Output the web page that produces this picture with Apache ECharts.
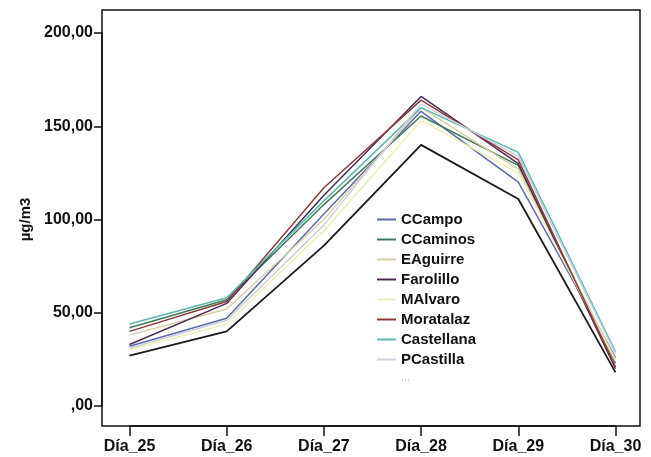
<!DOCTYPE html>
<html>
<head>
<meta charset="utf-8">
<script src="https://cdn.jsdelivr.net/npm/echarts@6/dist/echarts.min.js"></script>
<style>html,body{margin:0;padding:0;background:#fff}#c{width:651px;height:457px}</style>
</head>
<body>
<div id="c"></div>
<script>
const categories = ['Día_25', 'Día_26', 'Día_27', 'Día_28', 'Día_29', 'Día_30'];
const yTicks = [0, 50, 100, 150, 200];
const CCampo     = [32, 47, 103, 158, 120, 26];
const CCaminos   = [42, 57, 108, 155.5, 129, 23];
const EAguirre   = [38, 52, 100, 160, 127, 25];
const Farolillo  = [33, 55, 113, 166, 130, 20];
const MAlvaro    = [30, 44, 94, 153, 125, 24];
const Moratalaz  = [40, 56, 117, 164, 132, 21];
const Castellana = [44, 58, 110, 160, 136, 29];
const PCastilla  = [31, 46, 97, 162, 134, 28];
const Otros      = [27, 40, 86, 140, 111, 18];

const seriesDefs = [
  ['CCampo', CCampo, '#5b6aa8'],
  ['CCaminos', CCaminos, '#3f7a5c'],
  ['EAguirre', EAguirre, '#d8cfa8'],
  ['Farolillo', Farolillo, '#4e2a50'],
  ['MAlvaro', MAlvaro, '#eceeb8'],
  ['Moratalaz', Moratalaz, '#8a3d3d'],
  ['Castellana', Castellana, '#5ab8b0'],
  ['PCastilla', PCastilla, '#cfcfdc'],
  ['...', Otros, '#1a1a1a']
];

const FONT = "'Liberation Sans', Arial, sans-serif";
const chart = echarts.init(document.getElementById('c'), null, {renderer: 'canvas'});
chart.setOption({
  animation: false,
  backgroundColor: '#fff',
  textStyle: {fontFamily: FONT},
  grid: {left: 129.5, right: 35.5, top: 33, bottom: 51, containLabel: false},
  graphic: [{
    type: 'rect', z: 0, silent: true,
    shape: {x: 102, y: 10, width: 538, height: 416},
    style: {fill: 'none', stroke: '#111', lineWidth: 1.5}
  }],
  legend: {
    orient: 'vertical', left: 377, top: 212,
    icon: 'rect', itemWidth: 19, itemHeight: 2, itemGap: 5, padding: 0,
    textStyle: {fontFamily: FONT, fontSize: 15, fontWeight: 'bold', color: '#111'},
    data: seriesDefs.slice(0, 8).map(d => d[0]).concat([{name: '...', icon: 'none', textStyle: {color: '#bbb', fontWeight: 'normal', fontSize: 11}}])
  },
  xAxis: {
    type: 'category', data: categories, boundaryGap: false, offset: 20,
    axisLine: {show: true, onZero: false, lineStyle: {color: '#111', width: 1.5}},
    axisTick: {show: true, length: 10, lineStyle: {color: '#111', width: 1.5}},
    axisLabel: {margin: 13, fontFamily: FONT, fontSize: 16, fontWeight: 'bold', color: '#111'},
    splitLine: {show: false}
  },
  yAxis: {
    type: 'value', min: yTicks[0], max: yTicks[yTicks.length - 1], interval: 50, offset: 27.5,
    name: 'µg/m3', nameLocation: 'middle', nameGap: 63, nameRotate: 90,
    nameTextStyle: {fontFamily: FONT, fontSize: 15, fontWeight: 'bold', color: '#111'},
    axisLine: {show: true, lineStyle: {color: '#111', width: 1.5}},
    axisTick: {show: true, length: 8, lineStyle: {color: '#111', width: 1.5}},
    axisLabel: {
      margin: 9, fontFamily: FONT, fontSize: 16, fontWeight: 'bold', color: '#111',
      formatter: v => v === 0 ? ',00' : v.toFixed(2).replace('.', ',')
    },
    splitLine: {show: false}
  },
  series: seriesDefs.map(d => ({
    name: d[0], type: 'line', data: d[1], symbol: 'none',
    lineStyle: {color: d[2], width: d[0] === '...' ? 1.8 : 1.5}, itemStyle: {color: d[2]},
    z: 3
  }))
});
</script>
</body>
</html>
